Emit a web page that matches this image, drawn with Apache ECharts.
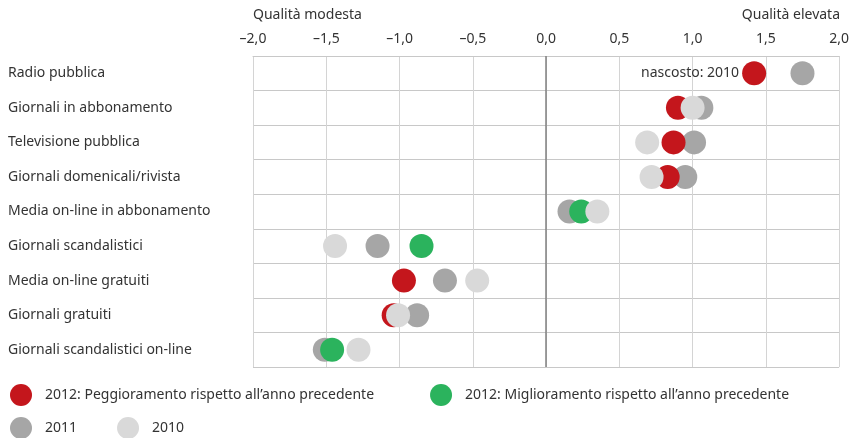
<!DOCTYPE html>
<html>
<head>
<meta charset="utf-8">
<script src="https://cdn.jsdelivr.net/npm/echarts@6/dist/echarts.min.js"></script>
<style>
  html, body { margin: 0; padding: 0; background: #fff; }
  #chart { width: 852px; height: 438px; }
</style>
</head>
<body>
<div id="chart"></div>
<script>
// categories top to bottom
const categories = [
  'Radio pubblica',
  'Giornali in abbonamento',
  'Televisione pubblica',
  'Giornali domenicali/rivista',
  'Media on-line in abbonamento',
  'Giornali scandalistici',
  'Media on-line gratuiti',
  'Giornali gratuiti',
  'Giornali scandalistici on-line'
]
const values2012 = [1.42, 0.90, 0.87, 0.83, 0.24, -0.85, -0.97, -1.04, -1.46]
const values2011 = [1.75, 1.06, 1.01, 0.95, 0.16, -1.15, -0.69, -0.88, -1.51]
const values2010 = [null, 1.00, 0.69, 0.72, 0.35, -1.44, -0.47, -1.01, -1.28] // null = nascosto
const xTicks = [-2, -1.5, -1, -0.5, 0, 0.5, 1, 1.5, 2]

const RED = '#c4161c'
const GREEN = '#2bb35d'
const GRAY = '#a6a6a6'
const LIGHT = '#d9d9d9'
const FONT = 'Noto Sans'

const nameWorse = '2012: Peggioramento rispetto all’anno precedente'
const nameBetter = '2012: Miglioramento rispetto all’anno precedente'

function point(v, i, extra) {
  return Object.assign({ value: [v, categories[i]] }, extra || {})
}
function hiddenLabel(i) {
  if (values2010[i] !== null) return {}
  return {
    label: {
      show: true, position: 'left', distance: 3, formatter: 'nascosto: 2010',
      color: '#333', fontFamily: FONT, fontSize: 14
    }
  }
}

const worse = []
const better = []
values2012.forEach((v, i) => {
  if (v < values2011[i]) worse.push(point(v, i, hiddenLabel(i)))
  else better.push(point(v, i, hiddenLabel(i)))
})

const fmt = v => v.toFixed(1).replace('.', ',').replace('-', '–')

const legendBase = {
  orient: 'horizontal', icon: 'circle', padding: 0,
  itemWidth: 22, itemHeight: 22,
  textStyle: { fontSize: 14, color: '#333', padding: [0, 0, 0, 8] }
}

const chart = echarts.init(document.getElementById('chart'))
chart.setOption({
  animation: false,
  textStyle: { fontFamily: FONT },
  grid: { left: 253, right: 12, top: 56, height: 311 },
  graphic: [
    { type: 'text', left: 253, top: 8, style: { text: 'Qualità modesta', fill: '#333', font: '14px "Noto Sans"' } },
    { type: 'text', right: 12, top: 8, style: { text: 'Qualità elevata', fill: '#333', font: '14px "Noto Sans"' } }
  ],
  legend: [
    Object.assign({ left: 10, top: 384, itemGap: 56, data: [nameWorse, nameBetter] }, legendBase),
    Object.assign({ left: 10, top: 417, itemGap: 40, data: ['2011', '2010'] }, legendBase)
  ],
  xAxis: {
    type: 'value', position: 'top', min: -2, max: 2, interval: 0.5,
    axisLine: { show: true, lineStyle: { color: '#c8c8c8' } },
    axisTick: { show: false },
    axisLabel: {
      margin: 10, fontSize: 14, color: '#333',
      formatter: v => xTicks.indexOf(v) >= 0 ? fmt(v) : ''
    },
    splitLine: { show: true, lineStyle: { color: '#d4d4d4' } }
  },
  yAxis: {
    type: 'category', inverse: true, data: categories,
    axisLine: { show: false },
    axisTick: { show: false },
    axisLabel: { align: 'left', margin: 245, fontSize: 14, color: '#333' },
    splitLine: { show: true, lineStyle: { color: '#c8c8c8' } }
  },
  series: [{
    name: '2011', type: 'scatter', symbolSize: 24,
    itemStyle: { color: GRAY, opacity: 1 },
    data: values2011.map((v, i) => point(v, i)),
    markLine: {
      silent: true, symbol: 'none', label: { show: false },
      lineStyle: { color: '#808080', width: 1.5, type: 'solid' },
      data: [{ xAxis: 0 }]
    }
  }, {
    name: nameWorse, type: 'scatter', symbolSize: 24,
    itemStyle: { color: RED, opacity: 1 },
    data: worse
  }, {
    name: nameBetter, type: 'scatter', symbolSize: 24,
    itemStyle: { color: GREEN, opacity: 1 },
    data: better
  }, {
    name: '2010', type: 'scatter', symbolSize: 24,
    itemStyle: { color: LIGHT, opacity: 1 },
    data: values2010.map((v, i) => v === null ? null : point(v, i)).filter(d => d)
  }]
})
</script>
</body>
</html>
